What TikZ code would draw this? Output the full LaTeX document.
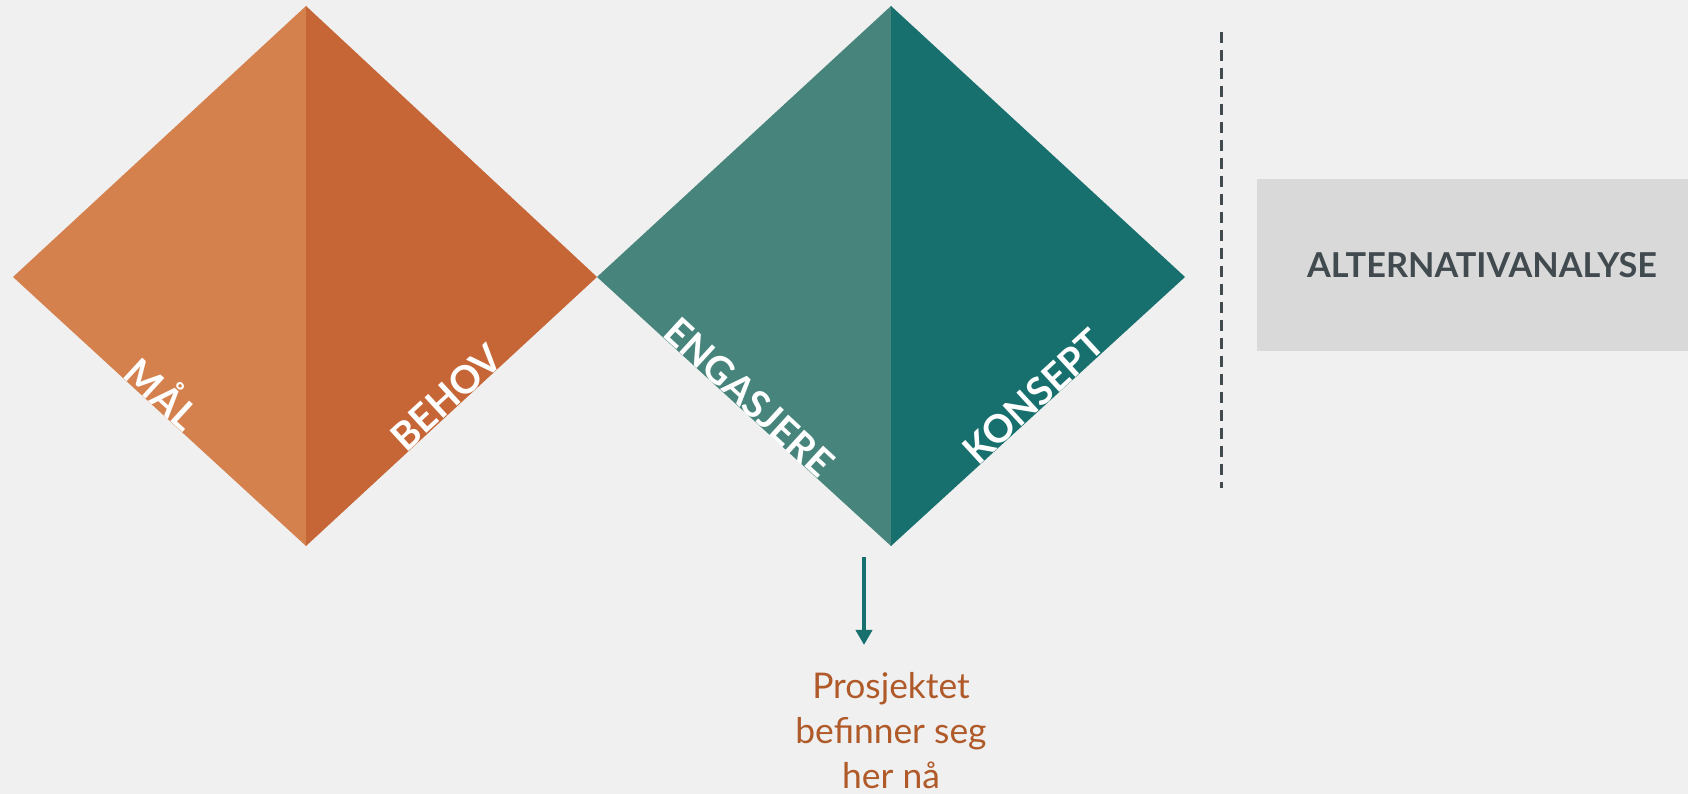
\documentclass[tikz,border=0pt]{standalone}
\usepackage{fontspec}
\setmainfont{Lato}
\usetikzlibrary{arrows.meta,calc}
\definecolor{bg}{HTML}{F0F0F0}
\definecolor{orlight}{HTML}{D4814D}
\definecolor{ordark}{HTML}{C66535}
\definecolor{tllight}{HTML}{47857C}
\definecolor{tldark}{HTML}{17706E}
\definecolor{boxgray}{HTML}{D9D9D9}
\definecolor{darktxt}{HTML}{414A4F}
\definecolor{brown}{HTML}{B05A2A}
\tikzset{
  edgelabel/.style={text=white, font=\bfseries\fontsize{38.5}{38.5}\selectfont, inner sep=0pt, anchor=base},
}
\begin{document}
\begin{tikzpicture}[x=1pt,y=1pt]
\fill[bg] (0,0) rectangle (1688,794);
\useasboundingbox (0,0) rectangle (1688,794);
% left diamond
\coordinate (L1) at (13,517);
\coordinate (T1) at (306,788);
\coordinate (R1) at (597,517);
\coordinate (B1) at (306,248);
% right diamond
\coordinate (T2) at (891,788);
\coordinate (R2) at (1185,517);
\coordinate (B2) at (891,248);
\fill[orlight] (L1) -- (T1) -- (B1) -- cycle;
\fill[ordark] (T1) -- (R1) -- (B1) -- cycle;
\fill[tllight] (R1) -- (T2) -- (B2) -- cycle;
\fill[tldark] (T2) -- (R2) -- (B2) -- cycle;
% labels
\node[edgelabel, rotate=-42.55] (mal) at ($(L1)!0.475!(B1)$) {MÅL};
\node[edgelabel, rotate=42.55] (behov) at ($(B1)!0.514!(R1)$) {BEHOV};
\node[edgelabel, rotate=-42.55] (engasjere) at ($(R1)!0.486!(B2)$) {ENGASJERE};
\node[edgelabel, rotate=42.55] (konsept) at ($(B2)!0.517!(R2)$) {KONSEPT};
% dashed divider
\coordinate (d1) at (1221,762);
\coordinate (d2) at (1221,306);
\draw[darktxt, line width=3pt, dash pattern=on 11pt off 7pt] (d1) -- (d2);
% gray box
\node[fill=boxgray, minimum width=431pt, minimum height=172pt, inner sep=0pt, anchor=north west] (alt) at (1257,615) {};
\node[text=darktxt, font=\bfseries\fontsize{34.3}{34.3}\selectfont, inner sep=0pt, anchor=base] (alttxt) at (1482,516) {ALTERNATIVANALYSE};
% arrow and text
\coordinate (a1) at (864,237);
\coordinate (a2) at (864,149);
\draw[tldark, line width=4pt, -{Triangle[width=16pt,length=15pt]}] (a1) -- (a2);
\node[text=brown, font=\fontsize{35.4}{45}\selectfont, align=center, inner sep=0pt, anchor=base] (here) at (891,5) {Prosjektet\\befinner seg\\her nå};
\end{tikzpicture}
\end{document}
